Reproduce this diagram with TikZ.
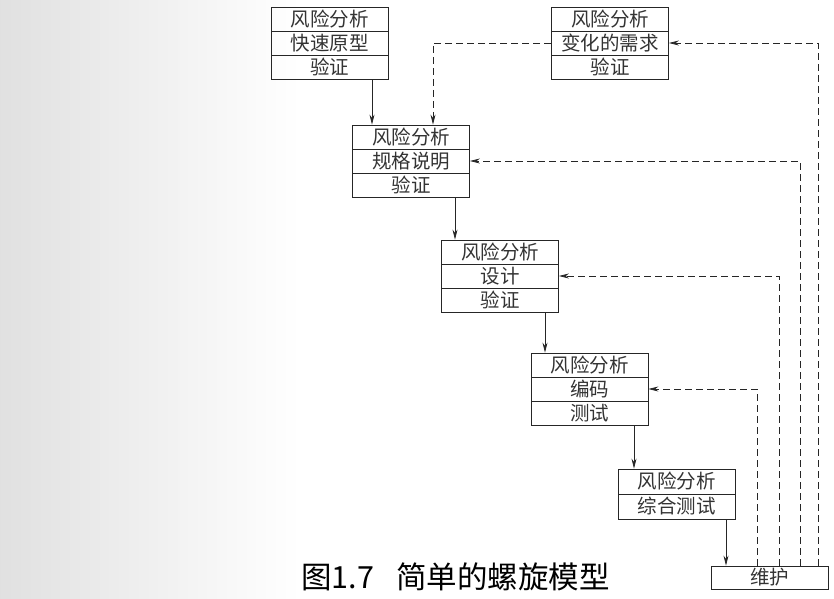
\documentclass[tikz,border=0pt]{standalone}
\usepackage{fontspec}
\setmainfont{Noto Sans CJK SC}
\usetikzlibrary{arrows.meta}
\begin{document}
\begin{tikzpicture}[x=1pt,y=-1pt,
  row/.style={draw=black!85,line width=0.8pt,minimum width=117pt,minimum height=24pt,inner sep=0pt,font=\fontsize{19.5}{19.5}\selectfont,text=black!80},
  arr/.style={draw=black!85,line width=0.8pt,-{Stealth[length=10pt,width=5pt]}},
  darr/.style={arr,dash pattern=on 7pt off 4pt}]
\useasboundingbox (0,0) rectangle (834,598);
\shade[left color=black!12,middle color=black!4,right color=white] (0,0) rectangle (300,598);
% box 1
\node[row] (b1a) at (329.5,19) {风险分析};
\node[row] (b1b) at (329.5,43) {快速原型};
\node[row] (b1c) at (329.5,67) {验证};
% box 2
\node[row] (b2a) at (610,19) {风险分析};
\node[row] (b2b) at (610,43) {变化的需求};
\node[row] (b2c) at (610,67) {验证};
% box 3
\node[row] (b3a) at (411,137) {风险分析};
\node[row] (b3b) at (411,161) {规格说明};
\node[row] (b3c) at (411,185) {验证};
% box 4
\node[row] (b4a) at (500,252) {风险分析};
\node[row] (b4b) at (500,276) {设计};
\node[row] (b4c) at (500,300) {验证};
% box 5
\node[row] (b5a) at (589.5,365) {风险分析};
\node[row] (b5b) at (589.5,389) {编码};
\node[row] (b5c) at (589.5,413) {测试};
% box 6
\node[row,minimum height=25pt] (b6a) at (676.5,481.5) {风险分析};
\node[row,minimum height=25pt] (b6b) at (676.5,506.5) {综合测试};
% maintenance
\node[row,minimum height=23pt] (m) at (769.5,577.5) {维护};
% caption
\node[font=\fontsize{30.5}{30.5}\selectfont,text=black,inner sep=0pt,anchor=west] (cap) at (301,577) {图1.7\hspace{22pt}简单的螺旋模型};
% solid arrows
\draw[arr] ([xshift=42.5pt]b1c.south) -- ([xshift=42.5pt]b1c.south |- b3a.north);
\draw[arr] ([xshift=44pt]b3c.south) -- ([xshift=44pt]b3c.south |- b4a.north);
\draw[arr] ([xshift=45pt]b4c.south) -- ([xshift=45pt]b4c.south |- b5a.north);
\draw[arr] ([xshift=44.5pt]b5c.south) -- ([xshift=44.5pt]b5c.south |- b6a.north);
\draw[arr] ([xshift=49.5pt]b6b.south) -- ([xshift=49.5pt]b6b.south |- m.north);
% dashed feedback
\draw[darr] ([xshift=48.5pt]m.north) |- (b2b.east);
\draw[darr] ([xshift=30.5pt]m.north) |- (b3b.east);
\draw[darr] ([xshift=9.5pt]m.north) |- (b4b.east);
\draw[darr] ([xshift=-12.5pt]m.north) |- (b5b.east);
\draw[darr] (b2b.west) -| (b2b.west -| 433,0) -- (b3a.north -| 433,0);
\end{tikzpicture}
\end{document}
